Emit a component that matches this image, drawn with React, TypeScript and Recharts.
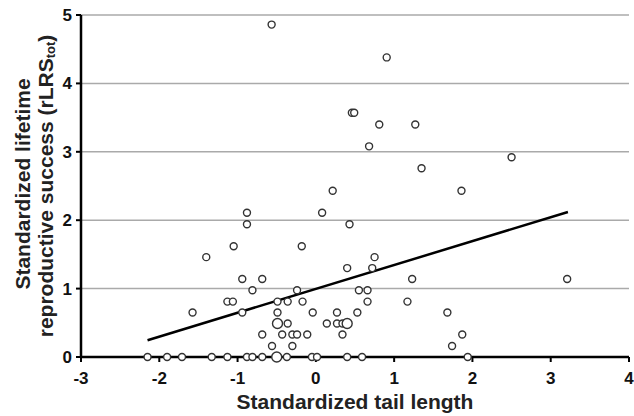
import { CartesianGrid, Label, Scatter, ScatterChart, XAxis, YAxis } from 'recharts'

// Standardized tail length vs. standardized lifetime reproductive success.
// Open circles, one per bird; larger circles mark overlapping points.
const tailLength = [
  -0.565, 0.46, 0.49, 0.905, 0.81, 1.27, 0.68, 2.5, 1.35, 0.215, 1.86,
  -0.88, -0.88, 0.08, 0.43, -1.4, 0.75, -1.05, -0.18, 0.4, 0.72,
  -0.94, -0.685, 1.23, 3.21, -0.81, -0.24, 0.55, 0.66,
  -1.13, -1.06, -0.49, -0.36, -0.17, 0.66, 1.17,
  -1.575, -0.94, -0.49, -0.04, 0.27, 0.53, 1.68,
  -0.36, 0.14, 0.27, 0.34,
  -0.685, -0.43, -0.3, -0.24, -0.11, 0.34, 1.87,
  -0.56, -0.3, 1.74,
  -2.15, -1.9, -1.71, -1.33, -1.13, -0.88, -0.81, -0.685, -0.37, -0.05, 0.015, 0.4, 0.59, 1.94,
]
const rLRS = [
  4.86, 3.57, 3.57, 4.38, 3.4, 3.4, 3.08, 2.92, 2.76, 2.43, 2.43,
  2.11, 1.94, 2.11, 1.94, 1.46, 1.46, 1.62, 1.62, 1.3, 1.3,
  1.14, 1.14, 1.14, 1.14, 0.975, 0.975, 0.975, 0.975,
  0.81, 0.81, 0.81, 0.81, 0.81, 0.81, 0.81,
  0.65, 0.65, 0.65, 0.65, 0.65, 0.65, 0.65,
  0.49, 0.49, 0.49, 0.49,
  0.33, 0.33, 0.33, 0.33, 0.33, 0.33, 0.33,
  0.16, 0.16, 0.16,
  0, 0, 0, 0, 0, 0, 0, 0, 0, 0, 0, 0, 0, 0,
]

// overlapping points, drawn as bigger circles
const bigTail = [-0.49, 0.4, -0.5]
const bigRLRS = [0.49, 0.49, 0]

// fitted regression line end points
const fitTail = [-2.15, 3.22]
const fitRLRS = [0.245, 2.12]

const xTicks = [-3, -2, -1, 0, 1, 2, 3, 4]
const yTicks = [0, 1, 2, 3, 4, 5]

const points = tailLength.map((x, i) => ({ x, y: rLRS[i] }))
const bigPoints = bigTail.map((x, i) => ({ x, y: bigRLRS[i] }))
const fit = fitTail.map((x, i) => ({ x, y: fitRLRS[i] }))

const FONT = '"Liberation Sans", Arial, sans-serif'
const tickStyle = { fill: '#111', fontSize: 17, fontWeight: 'bold', fontFamily: FONT }

const circle = (r: number) => (props: any) => (
  <circle cx={props.cx} cy={props.cy} r={r} fill="#fff" stroke="#333" strokeWidth={1.4} />
)

function YTitle({ viewBox }: any) {
  const cy = viewBox.y + viewBox.height / 2
  return (
    <g fontFamily={FONT} fontWeight="bold" fontSize={21} fill="#222">
      <text x={22} y={cy - 2} transform={`rotate(-90 22 ${cy - 2})`} textAnchor="middle" dominantBaseline="central">
        Standardized lifetime
      </text>
      <text x={45} y={cy} transform={`rotate(-90 45 ${cy})`} textAnchor="middle" dominantBaseline="central">
        reproductive success (rLRS
        <tspan fontSize={13} dy={5}>tot</tspan>
        <tspan dy={-5}>)</tspan>
      </text>
    </g>
  )
}

export default function App() {
  return (
    <div style={{ position: 'absolute', left: 0, top: 0, background: '#fff' }}>
      <ScatterChart width={634} height={416} margin={{ top: 15, right: 5, bottom: 0, left: 0 }}>
        <CartesianGrid vertical={false} stroke="#aaa" strokeWidth={1.5} />
        <XAxis
          type="number"
          dataKey="x"
          domain={[-3, 4]}
          ticks={xTicks}
          height={59}
          axisLine={{ stroke: '#000', strokeWidth: 2.5 }}
          tickLine={{ stroke: '#000', strokeWidth: 2 }}
          tickSize={5}
          tick={tickStyle}
          tickMargin={10}
        >
          <Label
            value="Standardized tail length"
            position="insideBottom"
            offset={7}
            style={{ fill: '#222', fontSize: 21, fontWeight: 'bold', fontFamily: FONT }}
          />
        </XAxis>
        <YAxis
          type="number"
          dataKey="y"
          domain={[0, 5]}
          ticks={yTicks}
          width={81}
          axisLine={{ stroke: '#000', strokeWidth: 2.5 }}
          tickLine={{ stroke: '#000', strokeWidth: 2 }}
          tickSize={5}
          tick={tickStyle}
          tickMargin={4}
        >
          <Label content={<YTitle />} />
        </YAxis>
        <Scatter
          data={fit}
          line={{ stroke: '#000', strokeWidth: 2.5 }}
          shape={() => <g />}
          isAnimationActive={false}
        />
        <Scatter data={points} shape={circle(3.5)} isAnimationActive={false} />
        <Scatter data={bigPoints} shape={circle(5)} isAnimationActive={false} />
      </ScatterChart>
    </div>
  )
}
